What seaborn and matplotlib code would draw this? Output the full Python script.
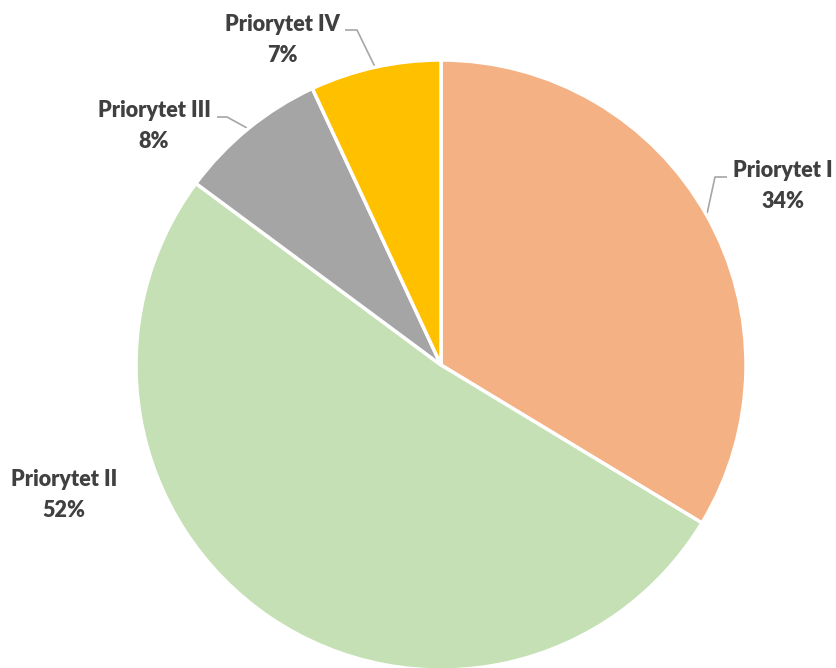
import matplotlib
matplotlib.use("Agg")
import matplotlib.pyplot as plt
import seaborn as sns
import numpy as np

# ---- data ----
categories = ["Priorytet I", "Priorytet II", "Priorytet III", "Priorytet IV"]
values = [34, 52, 8, 7]
colors = ["#F4B183", "#C5E0B4", "#A5A5A5", "#FFC000"]

sns.set_theme(style="white")
plt.rcParams['font.family'] = ['Lato', 'DejaVu Sans']

W, H = 836, 668
fig = plt.figure(figsize=(W / 100, H / 100), dpi=100)
ax = fig.add_axes([0, 0, 1, 1])

# pie geometry in pixels -> data units (radius = 1)
cx, cy, R = 441, 365, 305

wedges, _ = ax.pie(values, colors=colors, startangle=90, counterclock=False,
                   radius=1.0, center=(0, 0),
                   wedgeprops=dict(edgecolor="white", linewidth=2.5))
ax.set_xlim((0 - cx) / R, (W - cx) / R)
ax.set_ylim((cy - H) / R, cy / R)
ax.set_aspect("equal")
ax.axis("off")


def px(x, y):
    return ((x - cx) / R, (cy - y) / R)


# label layout (pixel positions of label centres), leader elbows / ends
label_pos = [(783, 186), (64, 495), (154, 126), (282, 40)]
leaders = [((715, 177), (727, 177)), None, ((227, 117), (217, 117)),
           ((357, 30), (345, 30))]

for w, cat, v, lp, ld in zip(wedges, categories, values, label_pos, leaders):
    lx, ly = px(*lp)
    ax.text(lx, ly, f"{cat}\n{v}%", ha="center", va="center",
            fontsize=15.5, fontweight="heavy", color="#404040",
            linespacing=1.58)
    if ld is not None:
        mid = np.deg2rad((w.theta1 + w.theta2) / 2)
        ax0, ay0 = np.cos(mid), np.sin(mid)
        ex, ey = px(*ld[0])
        fx, fy = px(*ld[1])
        ax.plot([ax0, ex, fx], [ay0, ey, fy], color="#A6A6A6", lw=1.2,
                solid_capstyle="butt", zorder=0.5)

fig.savefig("out.png", dpi=100)
